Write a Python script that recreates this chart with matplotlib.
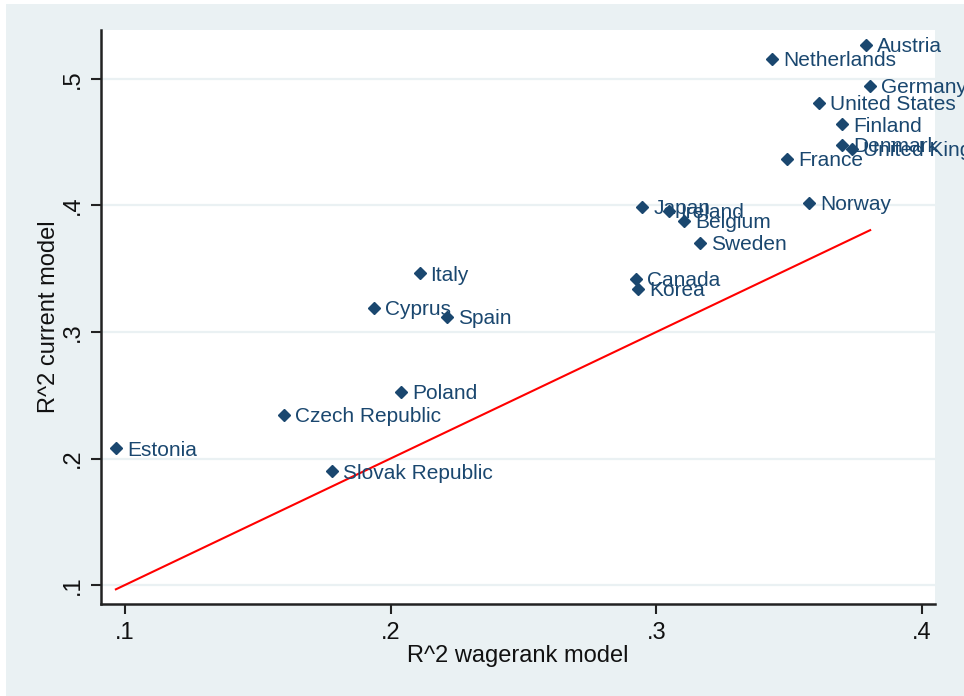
import matplotlib
matplotlib.use("Agg")
import matplotlib.pyplot as plt
from matplotlib.patches import Rectangle
from matplotlib.ticker import FuncFormatter

countries = ["Austria", "Netherlands", "Germany", "United States", "Finland",
             "Denmark", "United Kingdom", "France", "Norway", "Japan", "Ireland",
             "Belgium", "Sweden", "Canada", "Korea", "Italy", "Cyprus", "Spain",
             "Poland", "Czech Republic", "Estonia", "Slovak Republic"]
r2_wagerank = [0.379, 0.3436, 0.3805, 0.3613, 0.370, 0.370, 0.3737, 0.3492,
               0.3575, 0.2947, 0.3049, 0.3105, 0.3165, 0.2925, 0.2932, 0.2109,
               0.1936, 0.2214, 0.2041, 0.1598, 0.0966, 0.1778]
r2_current = [0.527, 0.516, 0.4945, 0.481, 0.4644, 0.448, 0.4447, 0.4368,
              0.402, 0.3988, 0.3957, 0.3878, 0.3704, 0.3419, 0.334, 0.3466,
              0.319, 0.3119, 0.2526, 0.2344, 0.2083, 0.190]
xticks = [0.1, 0.2, 0.3, 0.4]
yticks = [0.1, 0.2, 0.3, 0.4, 0.5]

W, H = 964, 696
fig = plt.figure(figsize=(W / 100, H / 100), dpi=100, facecolor="white")
bg = "#EAF1F3"
fig.patches.append(Rectangle((6 / W, 0), 1 - 6 / W, 1 - 4 / H, transform=fig.transFigure,
                             facecolor=bg, edgecolor="none", zorder=-10))

ax = fig.add_axes([101 / W, 1 - 604 / H, (935 - 101) / W, (604 - 30) / H])
ax.set_facecolor("white")

navy = "#1a476f"
ax.set_xlim(0.091, 0.4049)
ax.set_ylim(0.085, 0.5387)

for y in yticks:
    ax.axhline(y, color="#EAF1F3", lw=1.6, zorder=0)

lo, hi = min(r2_wagerank), max(r2_wagerank)
ax.plot([lo, hi], [lo, hi], color="#ff0000", lw=1.5, zorder=2)

ax.plot(r2_wagerank, r2_current, linestyle="none", marker="D", ms=6.5,
        color=navy, mec=navy, zorder=3)
for c, x, y in zip(countries, r2_wagerank, r2_current):
    ax.annotate(c, (x, y), xytext=(11, -2), textcoords="offset pixels",
                va="center", ha="left", fontsize=15, color=navy,
                family="Liberation Sans", zorder=4, annotation_clip=False)

fmt = FuncFormatter(lambda v, p: ("%.1f" % v).lstrip("0"))
ax.set_xticks(xticks)
ax.set_yticks(yticks)
ax.xaxis.set_major_formatter(fmt)
ax.yaxis.set_major_formatter(fmt)
ax.tick_params(axis="both", direction="out", length=7, width=1.5, color="#222222",
               labelsize=17, labelcolor="#111111")
for lab in ax.get_xticklabels() + ax.get_yticklabels():
    lab.set_family("Liberation Sans")
for lab in ax.get_yticklabels():
    lab.set_rotation(90)
    lab.set_va("center")
ax.tick_params(axis="x", pad=6)
ax.tick_params(axis="y", pad=5)

for s in ["top", "right"]:
    ax.spines[s].set_visible(False)
for s in ["left", "bottom"]:
    ax.spines[s].set_color("#222222")
    ax.spines[s].set_linewidth(1.8)

ax.set_xlabel("R^2 wagerank model", fontsize=17, family="Liberation Sans",
              color="#111111", labelpad=1)
ax.set_ylabel("R^2 current model", fontsize=17, family="Liberation Sans",
              color="#111111", labelpad=2)

fig.savefig("out.png", dpi=100, facecolor=fig.get_facecolor())
